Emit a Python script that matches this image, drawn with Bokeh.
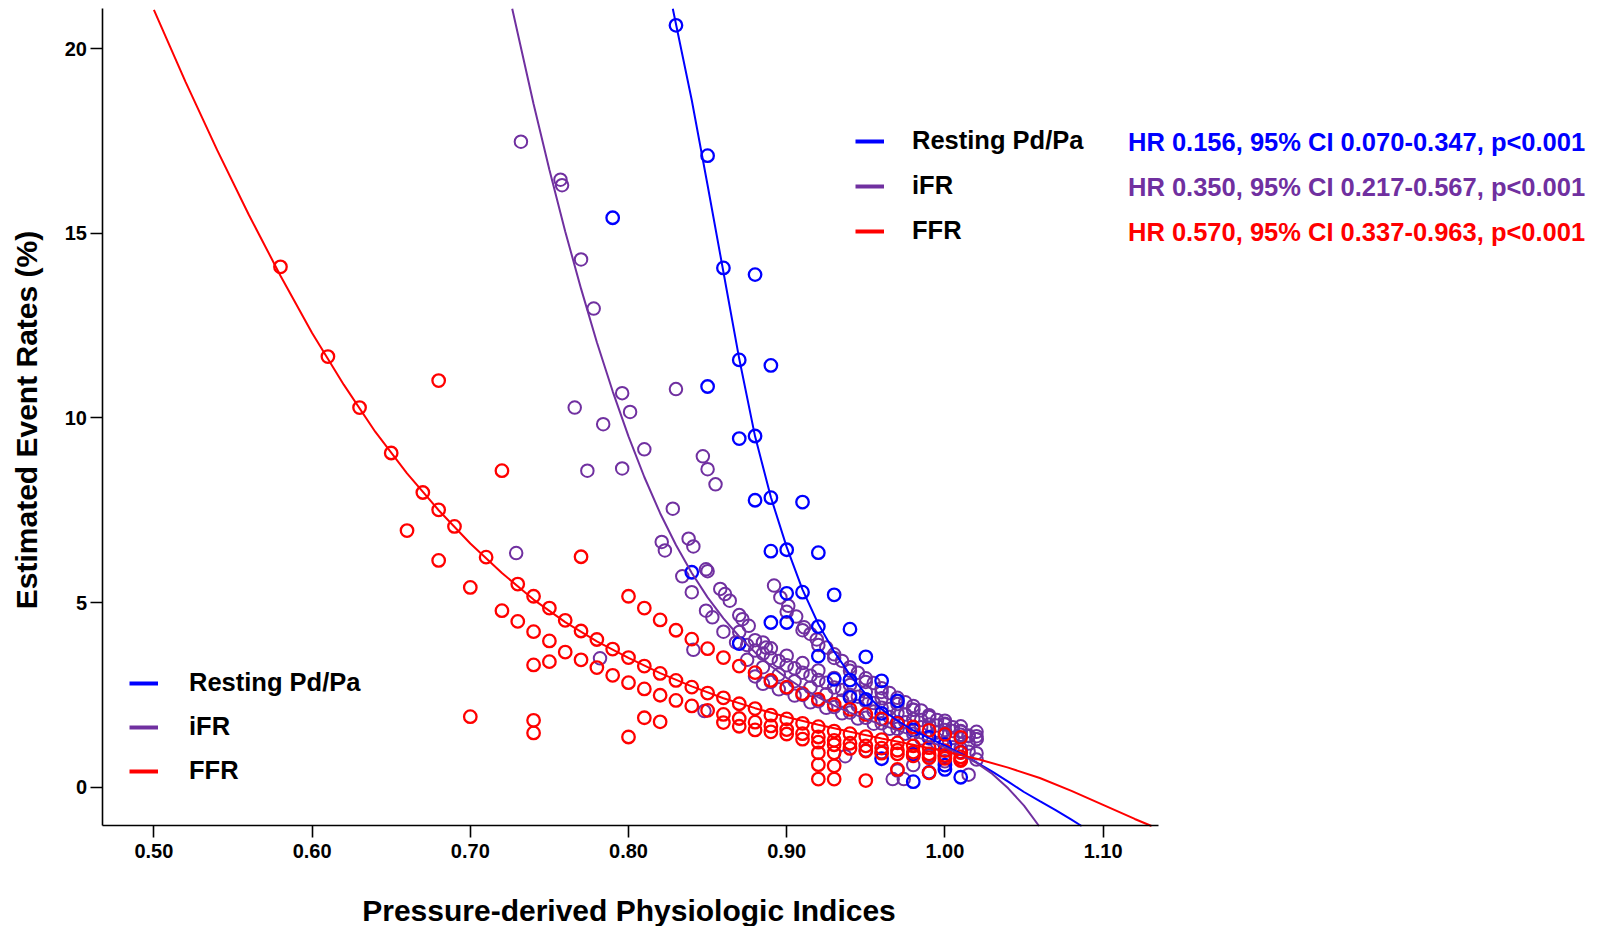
import math
from bokeh.plotting import figure
from bokeh.models import Range1d, Legend, LegendItem, Label, FixedTicker, NumeralTickFormatter
from bokeh.embed import file_html
from bokeh.resources import INLINE

BLUE = "#0000FF"
PURPLE = "#7030A0"
RED = "#FF0000"
FONT = "Liberation Sans"

# ---------------- data ----------------
x_ticks = [0.50, 0.60, 0.70, 0.80, 0.90, 1.00, 1.10]
y_ticks = [0, 5, 10, 15, 20]
x_axis_limits = (0.4672, 1.135)      # extent of the drawn x axis
y_axis_limits = (-1.05, 21.08)       # extent of the drawn y axis

# FFR (red) observations
ffr_scatter_x = [0.58, 0.61, 0.63, 0.65, 0.66, 0.67, 0.68, 0.68, 0.68, 0.69, 0.70, 0.70, 0.71, 0.72, 0.72,
                 0.73, 0.73, 0.74, 0.74, 0.74, 0.74, 0.74, 0.75, 0.75, 0.75, 0.77, 0.80, 0.81, 0.82,
                 0.92, 0.92, 0.92, 0.93, 0.93, 0.93, 0.95, 0.97, 0.99, 1.01]
ffr_scatter_y = [14.09, 11.66, 10.28, 9.05, 6.95, 7.98, 11.01, 7.51, 6.14, 7.06, 5.41, 1.91, 6.23, 8.57, 4.78,
                 5.50, 4.49, 5.17, 4.21, 3.31, 1.81, 1.47, 4.85, 3.96, 3.40, 6.24, 1.36, 1.88, 1.77,
                 0.93, 0.61, 0.22, 0.93, 0.58, 0.22, 0.18, 0.48, 0.39, 0.75]
ffr_band_ab_x = [0.76, 0.77, 0.78, 0.79, 0.80, 0.81, 0.82, 0.83, 0.84, 0.85, 0.86, 0.87, 0.88,
                 0.89, 0.90, 0.91, 0.92, 0.93, 0.94, 0.95, 0.96, 0.97, 0.98, 0.99, 1.00, 1.01]
ffr_band_a_y = [4.52, 4.23, 4.00, 3.74, 3.51, 3.28, 3.08, 2.89, 2.71, 2.55, 2.42, 2.26, 2.13,
                1.95, 1.85, 1.73, 1.64, 1.52, 1.45, 1.37, 1.29, 1.20, 1.12, 1.07, 0.99, 0.94]
ffr_band_b_y = [3.66, 3.45, 3.24, 3.03, 2.83, 2.66, 2.49, 2.35, 2.20, 2.08, 1.97, 1.86, 1.76,
                1.66, 1.56, 1.45, 1.36, 1.27, 1.19, 1.12, 1.06, 1.00, 0.95, 0.90, 0.86, 0.82]
ffr_band_c_x = [0.80, 0.81, 0.82, 0.83, 0.84, 0.85, 0.86, 0.87, 0.88, 0.89, 0.90,
                0.91, 0.92, 0.93, 0.94, 0.95, 0.96, 0.97, 0.98, 0.99, 1.00, 1.01]
ffr_band_c_y = [5.17, 4.85, 4.53, 4.25, 4.01, 3.75, 3.51, 3.28, 3.10, 2.89, 2.71,
                2.53, 2.38, 2.24, 2.11, 1.97, 1.85, 1.73, 1.63, 1.54, 1.43, 1.35]
ffr_band_d_x = [0.86, 0.87, 0.88, 0.89, 0.90, 0.91, 0.92, 0.93, 0.94, 0.95, 0.96, 0.97, 0.98, 0.99, 1.00, 1.01]
ffr_band_d_y = [1.75, 1.65, 1.55, 1.50, 1.44, 1.30, 1.22, 1.15, 1.05, 0.98, 0.92, 0.90, 0.85, 0.80, 0.78, 0.72]

# iFR (purple) observations
ifr_scatter_x = [0.732, 0.757, 0.758, 0.770, 0.778, 0.796, 0.830, 0.766, 0.801, 0.784, 0.810, 0.847, 0.850,
                 0.774, 0.796, 0.855, 0.828, 0.821, 0.823, 0.838, 0.841, 0.834, 0.849, 0.850, 0.840, 0.858,
                 0.861, 0.864, 0.849, 0.853, 0.870, 0.872, 0.876, 0.860, 0.841, 0.868, 0.885, 0.887, 0.782,
                 0.729, 0.848, 0.937, 0.967, 0.974, 1.015, 0.970, 0.980, 0.990, 1.000, 0.950, 0.960, 0.980,
                 1.000, 1.020]
ifr_scatter_y = [17.48, 16.45, 16.30, 14.29, 12.96, 10.67, 10.78, 10.28, 10.16, 9.83, 9.15, 8.96, 8.61,
                 8.57, 8.63, 8.20, 7.54, 6.64, 6.41, 6.73, 6.52, 5.71, 5.90, 5.85, 5.28, 5.37,
                 5.23, 5.05, 4.78, 4.60, 4.66, 4.55, 4.37, 4.21, 3.72, 3.92, 3.92, 3.78, 3.49,
                 6.34, 2.06, 0.84, 0.22, 0.22, 0.34, 0.45, 0.60, 0.85, 0.70, 1.00, 0.95, 0.90,
                 0.85, 0.75]
ifr_band_2_x = [0.892, 0.896, 0.901, 0.906, 0.911, 0.915, 0.919, 0.925, 0.930, 0.935, 0.940, 0.945, 0.950,
                0.955, 0.960, 0.965, 0.970, 0.975, 0.980, 0.985, 0.990, 0.995, 1.000, 1.005, 1.010, 1.015, 1.020]
ifr_band_2_y = [5.46, 5.14, 4.91, 4.62, 4.33, 4.15, 4.00, 3.78, 3.60, 3.42, 3.25, 3.10, 2.95,
                2.82, 2.68, 2.55, 2.42, 2.30, 2.20, 2.08, 1.92, 1.82, 1.72, 1.62, 1.50, 1.40, 1.30]
ifr_band_2b_x = [0.90, 0.91, 0.92, 0.93, 0.94, 0.95, 0.96, 0.97, 0.98, 0.99, 1.00, 1.01, 1.02]
ifr_band_2b_y = [4.75, 4.25, 3.85, 3.50, 3.15, 2.85, 2.58, 2.33, 2.10, 1.90, 1.70, 1.52, 1.38]
ifr_band_u_x = [0.87, 0.88, 0.89, 0.90, 0.91, 0.92, 0.93, 0.94, 0.95, 0.96, 0.97, 0.98, 0.99, 1.00, 1.01, 1.02]
ifr_band_u_y = [3.90, 3.70, 3.50, 3.30, 3.10, 2.90, 2.70, 2.50, 2.33, 2.15, 2.00, 1.85, 1.70, 1.55, 1.42, 1.30]
ifr_band_v_y = [4.20, 3.98, 3.76, 3.56, 3.36, 3.16, 2.96, 2.77, 2.58, 2.41, 2.25, 2.10, 1.95, 1.80, 1.65, 1.50]
ifr_band_m_x = [0.875, 0.885, 0.895, 0.905, 0.915, 0.925, 0.935, 0.945, 0.955, 0.965, 0.975, 0.985, 0.995, 1.005, 1.015]
ifr_band_m_y = [3.45, 3.25, 3.05, 2.87, 2.70, 2.52, 2.35, 2.20, 2.05, 1.90, 1.76, 1.62, 1.48, 1.33, 1.18]
ifr_band_u2_y = [3.85, 3.62, 3.42, 3.22, 3.02, 2.83, 2.63, 2.45, 2.28, 2.12, 1.97, 1.82, 1.67, 1.52, 1.38]
ifr_band_l_x = [0.88, 0.89, 0.90, 0.91, 0.92, 0.93, 0.94, 0.95, 0.96, 0.97, 0.98, 0.99, 1.00, 1.01, 1.02]
ifr_band_l_y = [3.00, 2.85, 2.68, 2.50, 2.33, 2.17, 2.02, 1.88, 1.73, 1.58, 1.45, 1.32, 1.18, 1.05, 0.92]
ifr_band_l2_x = [0.885, 0.895, 0.905, 0.915, 0.925, 0.935, 0.945, 0.955, 0.965, 0.975, 0.985, 0.995, 1.005, 1.015]
ifr_band_l2_y = [2.80, 2.65, 2.48, 2.30, 2.15, 2.00, 1.86, 1.72, 1.58, 1.45, 1.32, 1.20, 1.08, 0.96]

# Resting Pd/Pa (blue) observations
pdpa_x = [0.83, 0.85, 0.79, 0.86, 0.88, 0.87, 0.89, 0.85, 0.87, 0.88, 0.88, 0.89, 0.91, 0.89, 0.90, 0.92,
          0.84, 0.90, 0.91, 0.93, 0.89, 0.90, 0.92, 0.94, 0.87, 0.92, 0.95, 0.93, 0.94, 0.96, 0.94, 0.95,
          0.97, 0.96, 0.97, 0.98, 0.99, 1.00, 1.01, 0.96, 0.98, 0.98, 0.99, 1.00, 1.01, 1.00]
pdpa_y = [20.63, 17.10, 15.42, 14.06, 13.88, 11.57, 11.42, 10.85, 9.44, 9.51, 7.77, 7.84, 7.72, 6.39, 6.43, 6.35,
          5.82, 5.25, 5.28, 5.21, 4.46, 4.46, 4.35, 4.28, 3.89, 3.55, 3.53, 2.92, 2.90, 2.88, 2.43, 2.38,
          2.34, 2.00, 1.75, 1.55, 1.35, 1.15, 0.95, 0.77, 0.15, 0.88, 0.40, 0.60, 0.27, 0.48]

# fitted curves (from the top of the y axis to the x axis)
ffr_fit_x = [0.50, 0.52, 0.54, 0.56, 0.58, 0.60, 0.62, 0.64, 0.66, 0.68, 0.70, 0.72, 0.74, 0.76, 0.78, 0.80,
             0.82, 0.84, 0.86, 0.88, 0.90, 0.92, 0.94, 0.96, 0.98, 1.00, 1.02, 1.04, 1.06, 1.08, 1.10, 1.12, 1.1306]
ffr_fit_y = [21.05, 19.1, 17.25, 15.5, 13.85, 12.3, 10.9, 9.62, 8.5, 7.5, 6.6, 5.8, 5.08, 4.47, 3.95, 3.5,
             3.09, 2.73, 2.41, 2.14, 1.9, 1.69, 1.5, 1.32, 1.15, 0.97, 0.77, 0.53, 0.25, -0.1, -0.48, -0.86, -1.05]
ifr_fit_x = [0.7265, 0.74, 0.75, 0.76, 0.77, 0.78, 0.79, 0.80, 0.81, 0.82, 0.83, 0.84, 0.85, 0.86, 0.87, 0.88,
             0.89, 0.90, 0.91, 0.92, 0.93, 0.94, 0.95, 0.96, 0.97, 0.98, 0.99, 1.00, 1.01, 1.02, 1.03, 1.04,
             1.05, 1.0595]
ifr_fit_y = [21.08, 18.5, 16.72, 15.05, 13.5, 12.05, 10.72, 9.5, 8.4, 7.42, 6.56, 5.8, 5.14, 4.57, 4.08, 3.65,
             3.28, 2.96, 2.68, 2.43, 2.21, 2.02, 1.85, 1.69, 1.54, 1.39, 1.24, 1.08, 0.89, 0.66, 0.36, -0.03,
             -0.5, -1.05]
pdpa_fit_x = [0.828, 0.84, 0.85, 0.86, 0.87, 0.88, 0.89, 0.90, 0.91, 0.92, 0.93, 0.94, 0.95, 0.96, 0.97,
              0.98, 0.99, 1.00, 1.01, 1.02, 1.03, 1.04, 1.05, 1.06, 1.07, 1.08, 1.0864]
pdpa_fit_y = [21.08, 18.6, 16.3, 13.95, 11.6, 9.5, 7.85, 6.5, 5.35, 4.42, 3.67, 3.04, 2.52, 2.11, 1.8,
              1.54, 1.33, 1.13, 0.91, 0.67, 0.42, 0.15, -0.13, -0.38, -0.62, -0.88, -1.05]

series_names = ["Resting Pd/Pa", "iFR", "FFR"]
hr_texts = ["HR 0.156, 95% CI 0.070-0.347, p<0.001",
            "HR 0.350, 95% CI 0.217-0.567, p<0.001",
            "HR 0.570, 95% CI 0.337-0.963, p<0.001"]
series_colors = [BLUE, PURPLE, RED]

# ---------------- figure ----------------
# the frame covers the whole canvas; both axes are drawn at fixed locations so that the
# annotation texts (to the right of the axes box) are not clipped
W, H = 1600, 926
PX0, PX_PER_X = 153.4, 1582.0     # pixel of x=0.50, pixels per x unit
PY0, PX_PER_Y = 786.7, 36.93      # pixel of y=0, pixels per y unit
x_rng = Range1d(0.5 - PX0 / PX_PER_X, 0.5 + (W - PX0) / PX_PER_X)
y_rng = Range1d(-(H - PY0) / PX_PER_Y, PY0 / PX_PER_Y)

p = figure(width=W, height=H, output_backend="svg", toolbar_location=None,
           x_range=x_rng, y_range=y_rng, min_border=0,
           min_border_left=0, min_border_right=0, min_border_top=0, min_border_bottom=0)
p.outline_line_color = None
p.xgrid.visible = False
p.ygrid.visible = False
p.background_fill_color = "white"
p.border_fill_color = "white"

for ax in (p.xaxis[0], p.yaxis[0]):
    ax.axis_line_color = "black"
    ax.axis_line_width = 1.6
    ax.major_tick_line_color = "black"
    ax.major_tick_line_width = 1.6
    ax.major_tick_in = 0
    ax.major_tick_out = 12
    ax.minor_tick_line_color = None
    ax.major_label_text_font = FONT
    ax.major_label_text_font_style = "bold"
    ax.major_label_text_font_size = "20px"
    ax.major_label_text_color = "black"

p.xaxis.ticker = FixedTicker(ticks=x_ticks)
p.xaxis.formatter = NumeralTickFormatter(format="0.00")
p.xaxis.major_label_standoff = 6
p.xaxis.fixed_location = y_axis_limits[0]
p.xaxis.bounds = x_axis_limits

p.yaxis.ticker = FixedTicker(ticks=y_ticks)
p.yaxis.formatter = NumeralTickFormatter(format="0")
p.yaxis.major_label_standoff = 3
p.yaxis.fixed_location = x_axis_limits[0]
p.yaxis.bounds = y_axis_limits

# axis titles
p.add_layout(Label(x=0.5 + (628.5 - PX0) / PX_PER_X, y=(PY0 - 909.5) / PX_PER_Y,
                   text="Pressure-derived Physiologic Indices", text_font=FONT, text_font_style="bold",
                   text_font_size="30px", text_color="black", text_align="center", text_baseline="middle"))
p.add_layout(Label(x=0.5 + (25.6 - PX0) / PX_PER_X, y=(PY0 - 419.5) / PX_PER_Y, angle=math.pi / 2,
                   text="Estimated Event Rates (%)", text_font=FONT, text_font_style="bold",
                   text_font_size="30px", text_color="black", text_align="center", text_baseline="middle"))

# scatter points: purple, blue, red (red drawn on top)
SIZE = 12.5
for xs, ys in [(ifr_scatter_x, ifr_scatter_y), (ifr_band_2_x, ifr_band_2_y), (ifr_band_2b_x, ifr_band_2b_y),
               (ifr_band_u_x, ifr_band_v_y), (ifr_band_u_x, ifr_band_u_y), (ifr_band_m_x, ifr_band_m_y),
               (ifr_band_m_x, ifr_band_u2_y), (ifr_band_l_x, ifr_band_l_y), (ifr_band_l2_x, ifr_band_l2_y)]:
    p.scatter(xs, ys, marker="circle", size=SIZE, fill_color=None, line_color=PURPLE, line_width=2)
p.scatter(pdpa_x, pdpa_y, marker="circle", size=SIZE, fill_color=None, line_color=BLUE, line_width=2.3)
for xs, ys in [(ffr_scatter_x, ffr_scatter_y), (ffr_band_ab_x, ffr_band_a_y), (ffr_band_ab_x, ffr_band_b_y),
               (ffr_band_c_x, ffr_band_c_y), (ffr_band_d_x, ffr_band_d_y)]:
    p.scatter(xs, ys, marker="circle", size=SIZE, fill_color=None, line_color=RED, line_width=2.3)

# fitted lines
p.line(pdpa_fit_x, pdpa_fit_y, line_color=BLUE, line_width=2)
p.line(ifr_fit_x, ifr_fit_y, line_color=PURPLE, line_width=2)
p.line(ffr_fit_x, ffr_fit_y, line_color=RED, line_width=2)

# legend swatch renderers: placed far outside the visible ranges, only used for the legend glyphs
legend_renderers = [p.line(x=[-10, -9], y=[-10, -10], line_color=c, line_width=4) for c in series_colors]


def make_legend(loc, standoff, spacing):
    items = [LegendItem(label=n, renderers=[r]) for n, r in zip(series_names, legend_renderers)]
    return Legend(items=items, location=loc, orientation="vertical", background_fill_alpha=0,
                  border_line_alpha=0, padding=0, margin=0, glyph_width=29, glyph_height=20,
                  label_standoff=standoff, spacing=spacing, label_text_font=FONT,
                  label_text_font_style="bold", label_text_font_size="25.5px", label_text_color="black")


p.add_layout(make_legend((129, 141), 31, 15))
p.add_layout(make_legend((855, 681), 28, 16))

# hazard-ratio annotations next to the upper legend
hr_rows_px = [141.2, 186.2, 231.2]
for t, c, py in zip(hr_texts, series_colors, hr_rows_px):
    p.add_layout(Label(x=0.5 + (1127.5 - PX0) / PX_PER_X, y=(PY0 - py) / PX_PER_Y, text=t, text_color=c,
                       text_font=FONT, text_font_style="bold", text_font_size="25.5px",
                       text_align="left", text_baseline="middle"))

open("out.html", "w").write(file_html(p, INLINE))
